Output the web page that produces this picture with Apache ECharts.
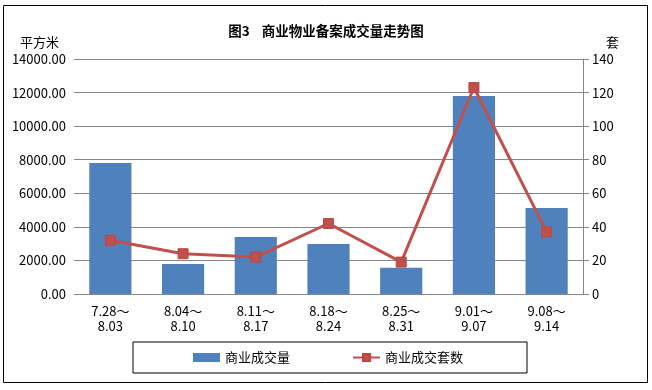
<!DOCTYPE html>
<html><head><meta charset="utf-8">
<script src="https://cdn.jsdelivr.net/npm/echarts@6/dist/echarts.min.js"></script>
<style>html,body{margin:0;padding:0;background:#fff}#c{width:652px;height:390px}</style>
</head><body><div id="c"></div>
<script>
const categories = ['7.28～\n8.03','8.04～\n8.10','8.11～\n8.17','8.18～\n8.24','8.25～\n8.31','9.01～\n9.07','9.08～\n9.14'];
const areaValues = [7800, 1790, 3400, 2980, 1560, 11800, 5120];
const countValues = [32, 24, 22, 42, 19, 123, 37];
const leftTicks = [0, 2000, 4000, 6000, 8000, 10000, 12000, 14000];
const rightTicks = [0, 20, 40, 60, 80, 100, 120, 140];

const FONT = '"Noto Sans CJK SC", sans-serif';
const chart = echarts.init(document.getElementById('c'));
chart.setOption({
  animation: false,
  backgroundColor: '#fff',
  textStyle: { fontFamily: FONT },
  title: {
    text: '图3    商业物业备案成交量走势图',
    left: 'center', top: 19,
    textStyle: { fontSize: 13.5, fontWeight: 'bold', color: '#000', fontFamily: FONT }
  },
  graphic: [
    { type: 'rect', shape: { x: 3.5, y: 5.5, width: 644, height: 377 }, style: { fill: 'none', stroke: '#000', lineWidth: 1 }, silent: true },
    { type: 'text', left: 20, top: 36, style: { text: '平方米', font: '13px ' + FONT, fill: '#000' } },
    { type: 'text', left: 606, top: 36, style: { text: '套', font: '13px ' + FONT, fill: '#000' } }
  ],
  grid: { left: 74, right: 69, top: 59, bottom: 96, containLabel: false },
  legend: {
    left: 133, top: 342,
    padding: [9, 64, 9, 60],
    borderColor: '#000', borderWidth: 1,
    itemWidth: 27, itemHeight: 9, itemGap: 62,
    textStyle: { fontSize: 13, color: '#000', fontFamily: FONT },
    data: [
      { name: '商业成交量', icon: 'rect' },
      { name: '商业成交套数' }
    ]
  },
  xAxis: {
    type: 'category', data: categories,
    axisLine: { show: true, lineStyle: { color: '#868686', width: 1 } },
    axisTick: { show: false },
    axisLabel: { fontSize: 13, color: '#000', lineHeight: 15, margin: 10, interval: 0, fontFamily: FONT }
  },
  yAxis: [
    {
      type: 'value', min: leftTicks[0], max: leftTicks[leftTicks.length - 1], interval: 2000,
      axisLine: { show: false }, axisTick: { show: false },
      splitLine: { show: true, lineStyle: { color: '#868686', width: 1 } },
      axisLabel: { fontSize: 13, color: '#000', margin: 8, formatter: v => v.toFixed(2), fontFamily: FONT }
    },
    {
      type: 'value', min: rightTicks[0], max: rightTicks[rightTicks.length - 1], interval: 20,
      axisLine: { show: true, lineStyle: { color: '#868686', width: 1 } },
      axisTick: { show: true, length: 6, lineStyle: { color: '#868686' } },
      splitLine: { show: false },
      axisLabel: { fontSize: 13, color: '#000', margin: 9, fontFamily: FONT }
    }
  ],
  series: [
    {
      name: '商业成交量', type: 'bar', data: areaValues, yAxisIndex: 0,
      barWidth: '58%', itemStyle: { color: '#4F81BD' }
    },
    {
      name: '商业成交套数', type: 'line', data: countValues, yAxisIndex: 1,
      symbol: 'rect', symbolSize: 10, showAllSymbol: true,
      lineStyle: { color: '#C0504D', width: 3 },
      itemStyle: { color: '#C0504D', borderColor: '#B84845', borderWidth: 1 }
    }
  ]
});
</script></body></html>
